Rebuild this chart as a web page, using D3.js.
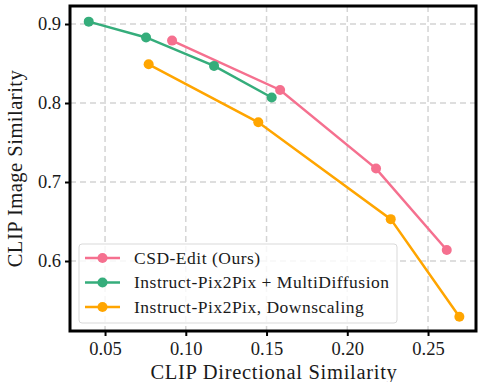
<!DOCTYPE html>
<html>
<head>
<meta charset="utf-8">
<script src="https://cdn.jsdelivr.net/npm/d3@7"></script>
<style>
  body { margin: 0; background: #fff; }
  svg { display: block; font-family: "Liberation Serif", serif; }
</style>
</head>
<body>
<svg width="478" height="382"></svg>
<script>
// DATA
const seriesNames = ["CSD-Edit (Ours)", "Instruct-Pix2Pix + MultiDiffusion", "Instruct-Pix2Pix, Downscaling"]
const seriesColors = ["#f5708f", "#35ad7b", "#ffa500"]

const csdX = [0.0915, 0.1584, 0.2178, 0.2616]
const csdY = [0.879, 0.8165, 0.717, 0.614]

const multiX = [0.0399, 0.0754, 0.1175, 0.1532]
const multiY = [0.903, 0.883, 0.847, 0.807]

const downX = [0.0770, 0.1449, 0.2269, 0.2694]
const downY = [0.849, 0.7756, 0.653, 0.5295]

const xTicks = [0.05, 0.10, 0.15, 0.20, 0.25]
const yTicks = [0.6, 0.7, 0.8, 0.9]

const series = [
  { name: seriesNames[0], color: seriesColors[0], xs: csdX, ys: csdY },
  { name: seriesNames[1], color: seriesColors[1], xs: multiX, ys: multiY },
  { name: seriesNames[2], color: seriesColors[2], xs: downX, ys: downY }
]

// SETUP
const svg = d3.select("svg")
const plotL = 70, plotR = 476, plotT = 6, plotB = 331

const scaleX = d3.scaleLinear()
  .domain([0.0283, 0.2797])
  .range([plotL, plotR])

const scaleY = d3.scaleLinear()
  .domain([0.5114, 0.9228])
  .range([plotB, plotT])

// grid
svg.append("g")
  .selectAll("line")
  .data(xTicks)
  .enter()
  .append("line")
  .attr("x1", d => scaleX(d))
  .attr("x2", d => scaleX(d))
  .attr("y1", plotT)
  .attr("y2", plotB)
  .attr("stroke", "#d4d4d4")
  .attr("stroke-width", 1.5)
  .attr("stroke-dasharray", "6,4")

svg.append("g")
  .selectAll("line")
  .data(yTicks)
  .enter()
  .append("line")
  .attr("x1", plotL)
  .attr("x2", plotR)
  .attr("y1", d => scaleY(d))
  .attr("y2", d => scaleY(d))
  .attr("stroke", "#d4d4d4")
  .attr("stroke-width", 1.5)
  .attr("stroke-dasharray", "6,4")

// axes
const axisX = d3.axisBottom(scaleX)
  .tickValues(xTicks)
  .tickFormat(d3.format(".2f"))
  .tickSizeInner(5)
  .tickSizeOuter(0)
  .tickPadding(6)

const axisY = d3.axisLeft(scaleY)
  .tickValues(yTicks)
  .tickFormat(d3.format(".1f"))
  .tickSizeInner(5)
  .tickSizeOuter(0)
  .tickPadding(4)

const styleAxis = g => {
  g.attr("font-family", "Liberation Serif").attr("font-size", 18.5)
  g.select(".domain").remove()
  g.selectAll(".tick line").attr("stroke", "#000").attr("stroke-width", 2)
  g.selectAll(".tick text").attr("fill", "#1a1a1a")
}

svg.append("g")
  .attr("transform", `translate(0, ${plotB})`)
  .call(axisX)
  .call(styleAxis)

svg.append("g")
  .attr("transform", `translate(${plotL}, 0)`)
  .call(axisY)
  .call(styleAxis)

svg.append("text")
  .attr("x", 274)
  .attr("y", 379)
  .attr("text-anchor", "middle")
  .attr("font-size", 20.5)
  .attr("letter-spacing", 0.7)
  .attr("fill", "#1a1a1a")
  .text("CLIP Directional Similarity")

svg.append("text")
  .attr("transform", `translate(22, ${(plotT + plotB) / 2}) rotate(-90)`)
  .attr("text-anchor", "middle")
  .attr("font-size", 20.5)
  .attr("letter-spacing", 0.5)
  .attr("fill", "#1a1a1a")
  .text("CLIP Image Similarity")

// lines
const line = d3.line()
  .x(d => scaleX(d[0]))
  .y(d => scaleY(d[1]))

series.forEach(s => {
  const pts = s.xs.map((x, i) => [x, s.ys[i]])
  svg.append("path")
    .attr("d", line(pts))
    .attr("fill", "none")
    .attr("stroke", s.color)
    .attr("stroke-width", 2.5)
  svg.append("g")
    .selectAll("circle")
    .data(pts)
    .enter()
    .append("circle")
    .attr("cx", d => scaleX(d[0]))
    .attr("cy", d => scaleY(d[1]))
    .attr("r", 5)
    .attr("fill", s.color)
})

// frame
svg.append("rect")
  .attr("x", plotL)
  .attr("y", plotT)
  .attr("width", plotR - plotL)
  .attr("height", plotB - plotT)
  .attr("fill", "none")
  .attr("stroke", "#000")
  .attr("stroke-width", 3)

// legend
const legend = svg.append("g")
legend.append("rect")
  .attr("x", 79)
  .attr("y", 244)
  .attr("width", 318)
  .attr("height", 79)
  .attr("rx", 3)
  .attr("fill", "rgba(255,255,255,0.8)")
  .attr("stroke", "#d9d9d9")
  .attr("stroke-width", 1)

series.forEach((s, i) => {
  const y = 258 + i * 24.5
  legend.append("line")
    .attr("x1", 85).attr("x2", 120)
    .attr("y1", y).attr("y2", y)
    .attr("stroke", s.color)
    .attr("stroke-width", 2.5)
  legend.append("circle")
    .attr("cx", 102.5).attr("cy", y).attr("r", 5)
    .attr("fill", s.color)
  legend.append("text")
    .attr("x", 134)
    .attr("y", y + 5.5)
    .attr("font-size", 17.5)
    .attr("letter-spacing", 0.5)
    .attr("fill", "#1a1a1a")
    .text(s.name)
})
</script>
</body>
</html>
